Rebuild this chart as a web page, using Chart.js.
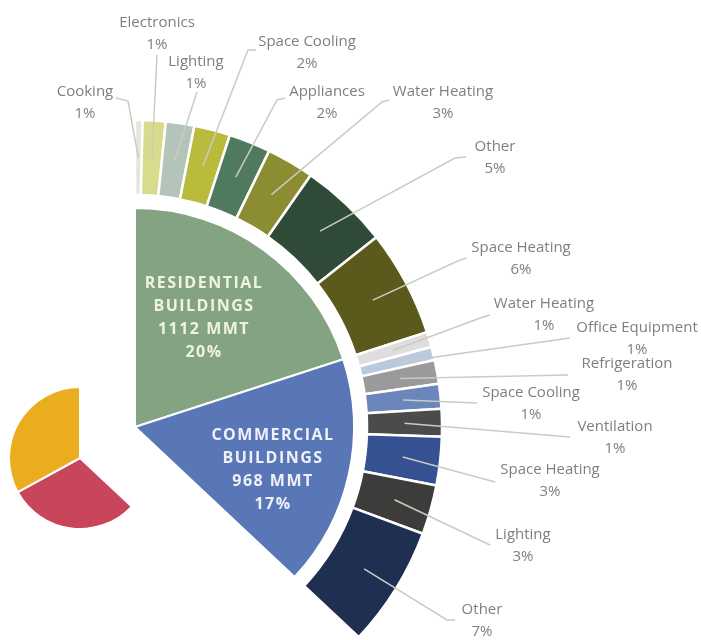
<!DOCTYPE html>
<html>
<head>
<meta charset="utf-8">
<script src="https://cdn.jsdelivr.net/npm/chart.js@4.4.1/dist/chart.umd.min.js"></script>
<style>
  html, body { margin: 0; padding: 0; background: #fff; }
  body { position: relative; width: 701px; height: 640px; overflow: hidden; }
  #main { position: absolute; left: -172px; top: 0; }
  #rest { position: absolute; left: 0; top: 378px; }
</style>
</head>
<body>
<canvas id="main" width="873" height="740"></canvas>
<canvas id="rest" width="160" height="160"></canvas>
<script>
// sectors (inner pie) — % of total
var sectorNames = ['RESIDENTIAL BUILDINGS', 'COMMERCIAL BUILDINGS', 'Unlabelled (red)', 'Unlabelled (yellow)'];
var sectorShare = [20, 17, 30, 33];
var sectorMMT = [1112, 968, null, null];

// residential end uses — arc sizes, labels as printed
var resUses = ['Cooking', 'Electronics', 'Lighting', 'Space Cooling', 'Appliances', 'Water Heating', 'Other', 'Space Heating'];
var resShare = [0.4, 1.2, 1.5, 1.9, 2.2, 2.5, 4.7, 5.6];
var resPct = ['1%', '1%', '1%', '2%', '2%', '3%', '5%', '6%'];

// commercial end uses
var comUses = ['Water Heating', 'Office Equipment', 'Refrigeration', 'Space Cooling', 'Ventilation', 'Space Heating', 'Lighting', 'Other'];
var comShare = [0.8, 0.7, 1.25, 1.3, 1.45, 2.55, 2.6, 6.35];
var comPct = ['1%', '1%', '1%', '1%', '1%', '3%', '3%', '7%'];

// colours
var sectorColors = ['#83a382', '#5977b7', '#c8455c', '#e9ad1f'];
var resColors = ['#e4e6dc', '#d7dc8c', '#b4c4b8', '#b9bb3c', '#4f7a5e', '#8c8d32', '#2f4a36', '#5b5a1c'];
var comColors = ['#dedede', '#b9c9df', '#9a9a9a', '#6a86bb', '#4b4b4b', '#355191', '#3e3c3b', '#1f2f52'];
var NONE = 'rgba(0,0,0,0)';

// label placement (page px): text centre + leader line points after the start inside the arc
var labelLayout = [
  { x: 85,  y: 92,  line: [[128, 101], [116, 98]] },
  { x: 157, y: 23,  line: [[157, 55]] },
  { x: 196, y: 62,  line: [[197, 92]] },
  { x: 307, y: 42,  line: [[248, 50], [256, 50]] },
  { x: 327, y: 92,  line: [[277, 100], [285, 98]] },
  { x: 443, y: 92,  line: [[382, 102], [389, 100]] },
  { x: 495, y: 147, line: [[455, 158], [466, 157]] },
  { x: 521, y: 248, line: [[460, 260], [467, 258]] },
  { x: 544, y: 304, line: [[483, 317], [490, 315]] },
  { x: 637, y: 328, line: [[570, 338]] },
  { x: 627, y: 364, line: [[568, 375]] },
  { x: 531, y: 393, line: [[477, 403]] },
  { x: 615, y: 427, line: [[570, 437]] },
  { x: 550, y: 470, line: [[495, 482]] },
  { x: 523, y: 535, line: [[490, 545]] },
  { x: 482, y: 610, line: [[447, 620], [455, 620]] }
];
var sectorLabelPos = [[204, 283], [273, 435]];
var OFFX = 172; // main canvas sits 172px left of the page

var restShare = sectorShare[2] + sectorShare[3];
var ringData = resShare.concat(comShare, [restShare]);
var ringColors = resColors.concat(comColors, [NONE]);
var ringBorders = ringData.map(function (v, i) { return i < ringData.length - 1 ? 2.5 : 0; });
var ringNames = resUses.concat(comUses, ['rest']);
var ringPct = resPct.concat(comPct);

var leaderPlugin = {
  id: 'leaders',
  afterDatasetsDraw: function (chart) {
    var ctx = chart.ctx;
    var arcs = chart.getDatasetMeta(0).data;
    ctx.save();
    ctx.strokeStyle = '#cbcbc4';
    ctx.lineWidth = 1.5;
    labelLayout.forEach(function (lab, i) {
      var p = arcs[i].getProps(['x', 'y', 'startAngle', 'endAngle', 'innerRadius', 'outerRadius'], true);
      var a = (p.startAngle + p.endAngle) / 2;
      var r = (p.innerRadius + p.outerRadius) / 2;
      ctx.beginPath();
      ctx.moveTo(p.x + r * Math.cos(a), p.y + r * Math.sin(a));
      lab.line.forEach(function (pt) { ctx.lineTo(pt[0] + OFFX, pt[1]); });
      ctx.stroke();
    });
    ctx.fillStyle = '#7f7f7f';
    ctx.font = '15px "Open Sans", sans-serif';
    ctx.textAlign = 'center';
    ctx.textBaseline = 'middle';
    labelLayout.forEach(function (lab, i) {
      ctx.fillText(ringNames[i], lab.x + OFFX, lab.y);
      ctx.fillText(ringPct[i], lab.x + OFFX, lab.y + 22);
    });
    // sector labels inside the big slices
    ctx.font = 'bold 16px "Open Sans", sans-serif';
    ctx.letterSpacing = '1.5px';
    var textCol = ['#eef3e2', '#eef1f8'];
    [0, 1].forEach(function (k) {
      var words = sectorNames[k].split(' ');
      var lines = [words[0], words[1], sectorMMT[k] + ' MMT', sectorShare[k] + '%'];
      ctx.fillStyle = textCol[k];
      lines.forEach(function (t, j) {
        ctx.fillText(t, sectorLabelPos[k][0] + OFFX, sectorLabelPos[k][1] + j * 23);
      });
    });
    ctx.restore();
  }
};

new Chart(document.getElementById('main').getContext('2d'), {
  type: 'pie',
  data: {
    labels: ringNames,
    datasets: [
      { data: ringData, backgroundColor: ringColors, borderColor: '#ffffff', borderWidth: ringBorders, weight: 75 },
      { data: [1], backgroundColor: NONE, borderWidth: 0, weight: 13 },
      {
        data: sectorShare,
        backgroundColor: [sectorColors[0], sectorColors[1], NONE, NONE],
        borderColor: '#ffffff',
        borderWidth: [2, 2, 0, 0],
        weight: 219
      }
    ]
  },
  options: {
    responsive: false,
    animation: false,
    events: [],
    radius: 307,
    layout: { padding: { left: 0, top: 120, right: 259, bottom: 6 } },
    plugins: { legend: { display: false }, tooltip: { enabled: false } }
  },
  plugins: [leaderPlugin]
});

// the two unlabelled sectors, pulled out and drawn smaller
new Chart(document.getElementById('rest').getContext('2d'), {
  type: 'pie',
  data: {
    labels: sectorNames,
    datasets: [{
      data: sectorShare,
      backgroundColor: [NONE, NONE, sectorColors[2], sectorColors[3]],
      borderColor: '#ffffff',
      borderWidth: [0, 0, 2, 2]
    }]
  },
  options: {
    responsive: false,
    animation: false,
    events: [],
    radius: 71,
    plugins: { legend: { display: false }, tooltip: { enabled: false } }
  }
});
</script>
</body>
</html>
